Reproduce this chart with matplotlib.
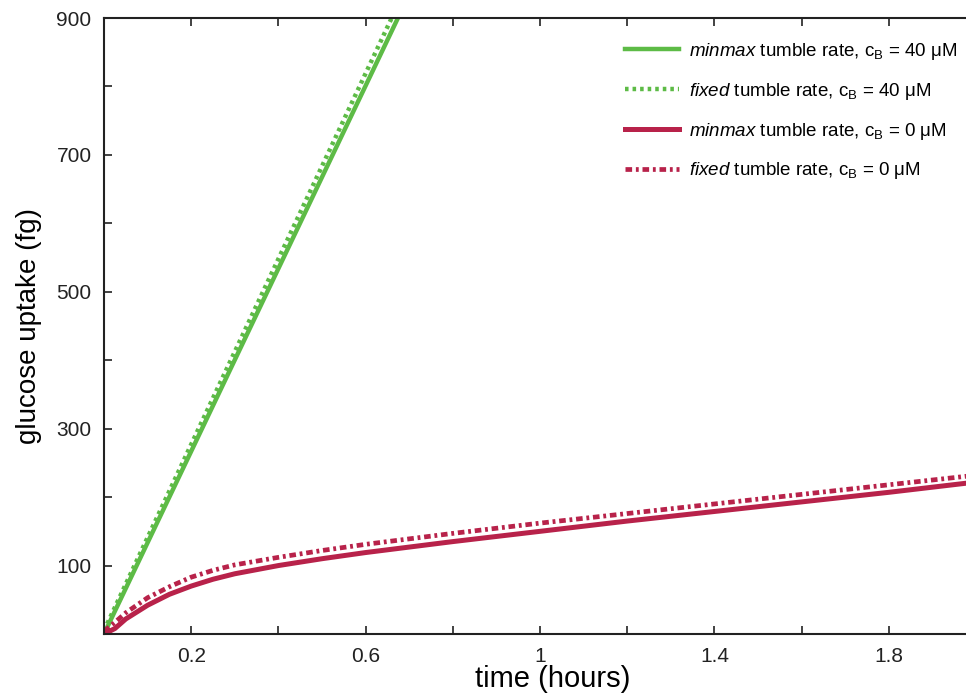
import matplotlib
matplotlib.use("Agg")
import matplotlib.pyplot as plt

plt.rcParams['font.family'] = ['Liberation Sans', 'DejaVu Sans']
plt.rcParams['mathtext.fontset'] = 'custom'
plt.rcParams['mathtext.rm'] = 'Liberation Sans'
plt.rcParams['mathtext.it'] = 'Liberation Sans:italic'

# glucose uptake (fg) vs time (hours)
t_green = [0, 0.2, 0.4, 0.6, 0.8]
minmax_40 = [0, 267, 534, 801, 1068]
fixed_40 = [5, 277, 548, 819, 1090]

t_red = [0, 0.025, 0.05, 0.1, 0.15, 0.2, 0.25, 0.3, 0.4, 0.5, 0.6,
         0.8, 1.0, 1.2, 1.4, 1.6, 1.8, 2.0]
minmax_0 = [0, 8, 22, 42, 58, 70, 80, 88, 100, 110, 119,
            135, 150, 165, 179, 193, 207, 222]
fixed_0 = [4, 17, 31, 53, 69, 83, 93, 101, 112, 122, 131,
           147, 162, 176, 190, 204, 218, 232]

xticks = [0, 0.2, 0.4, 0.6, 0.8, 1.0, 1.2, 1.4, 1.6, 1.8, 2.0]
xlabels = ['', '0.2', '', '0.6', '', '1', '', '1.4', '', '1.8', '']
yticks = [0, 100, 200, 300, 400, 500, 600, 700, 800, 900]
ylabels = ['', '100', '', '300', '', '500', '', '700', '', '900']

green = '#5dbb46'
red = '#b8224a'

fig = plt.figure(figsize=(9.66, 6.93), dpi=100)
# axes run on past the right edge of the figure, as in the original
ax = fig.add_axes([104/966, 59/693, 872/966, 616/693])

ax.plot(t_green, minmax_40, color=green, lw=3.2,
        label=r'$\it{minmax}$ tumble rate, c$_\mathrm{B}$ = 40 μM')
ax.plot(t_green, fixed_40, color=green, lw=3.2, ls=(0, (0.8, 0.9)),
        label=r'$\it{fixed}$ tumble rate, c$_\mathrm{B}$ = 40 μM')
ax.plot(t_red, minmax_0, color=red, lw=3.6,
        label=r'$\it{minmax}$ tumble rate, c$_\mathrm{B}$ = 0 μM')
ax.plot(t_red, fixed_0, color=red, lw=3.4, ls=(0, (1.4, 0.8, 0.6, 0.8)),
        label=r'$\it{fixed}$ tumble rate, c$_\mathrm{B}$ = 0 μM')

ax.set_xlim(0, 2.0)
ax.set_ylim(0, 900)
ax.set_xticks(xticks)
ax.set_xticklabels(xlabels)
ax.set_yticks(yticks)
ax.set_yticklabels(ylabels)
ax.tick_params(direction='in', length=6, width=1.2, top=True, right=True,
               labelsize=15, colors='#222222', pad=9)
for s in ax.spines.values():
    s.set_linewidth(1.5)
    s.set_color('#222222')

ax.set_xlabel('time (hours)', fontsize=21, labelpad=0)
ax.xaxis.set_label_coords(0.515, -0.05)
ax.set_ylabel('glucose uptake (fg)', fontsize=20, labelpad=10)

leg = ax.legend(loc='upper left', bbox_to_anchor=(0.578, 0.99), frameon=False,
                fontsize=13.5, handlelength=2.9, handletextpad=0.5,
                labelspacing=1.0)

fig.savefig('out.png', dpi=100)
